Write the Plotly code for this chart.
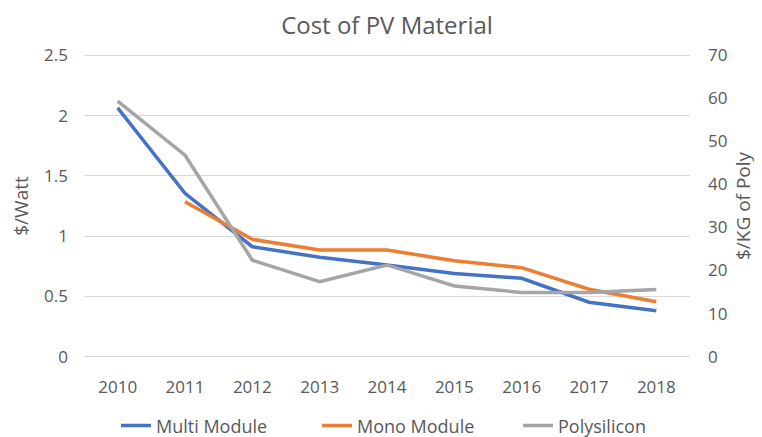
import plotly.graph_objects as go

years = ["2010", "2011", "2012", "2013", "2014", "2015", "2016", "2017", "2018"]
multi_module = [2.065, 1.355, 0.912, 0.824, 0.76, 0.69, 0.65, 0.451, 0.381]
mono_module = [None, 1.285, 0.973, 0.885, 0.885, 0.796, 0.738, 0.559, 0.456]
polysilicon = [59.4, 46.8, 22.4, 17.4, 21.3, 16.4, 14.9, 14.9, 15.6]

left_ticks = [0, 0.5, 1, 1.5, 2, 2.5]
left_labels = ["0", "0.5", "1", "1.5", "2", "2.5"]
right_ticks = [0, 10, 20, 30, 40, 50, 60, 70]

txt = "#595959"
font = "Open Sans"

# page body has an 8px default margin, so the figure is drawn at (8, 8)
W, H = 754, 429
eps = 0.02
px_per_unit = 302 / 2.5
pad = eps * px_per_unit

fig = go.Figure()
fig.add_trace(go.Scatter(x=years, y=multi_module, name="Multi Module", mode="lines",
                         line=dict(color="#4472C4", width=3.5)))
fig.add_trace(go.Scatter(x=years, y=mono_module, name="Mono Module", mode="lines",
                         line=dict(color="#ED7D31", width=3.5)))
fig.add_trace(go.Scatter(x=years, y=polysilicon, name="Polysilicon", mode="lines", yaxis="y2",
                         line=dict(color="#A5A5A5", width=3.5)))

fig.update_layout(
    width=W, height=H,
    margin=dict(l=76, r=72, t=47 - pad, b=80 - pad, autoexpand=False),
    paper_bgcolor="white", plot_bgcolor="white",
    font=dict(family=font, color=txt, size=17),
    title=dict(text="Cost of PV Material", x=(387 - 8) / W, xanchor="center",
               yref="container", y=1 - 18 / H, yanchor="middle",
               font=dict(size=24, color=txt, family=font)),
    xaxis=dict(type="category", range=[-0.5, 8.5], showgrid=False, showline=False, zeroline=False,
               ticks="", tickfont=dict(size=17, color=txt), ticklabelstandoff=16, automargin=False),
    yaxis=dict(range=[-eps, 2.5 + eps], tickvals=left_ticks, ticktext=left_labels,
               showgrid=True, gridcolor="#D9D9D9", gridwidth=1, zeroline=False,
               title=dict(text="$/Watt", font=dict(size=19, color=txt), standoff=10),
               tickfont=dict(size=17, color=txt), ticklabelstandoff=15, automargin=False),
    yaxis2=dict(range=[-eps * 28, 70 + eps * 28], tickvals=right_ticks, overlaying="y", side="right",
                showgrid=False, zeroline=False,
                title=dict(text="$/KG of Poly", font=dict(size=19, color=txt), standoff=10),
                tickfont=dict(size=17, color=txt), ticklabelstandoff=17, automargin=False),
    legend=dict(orientation="h", x=(116 - 84) / 606, xanchor="left", y=-67 / (302 + 2 * pad), yanchor="middle",
                font=dict(size=18, color=txt), entrywidth=156, entrywidthmode="pixels"),
    showlegend=True,
)

fig.write_html("out.html")
